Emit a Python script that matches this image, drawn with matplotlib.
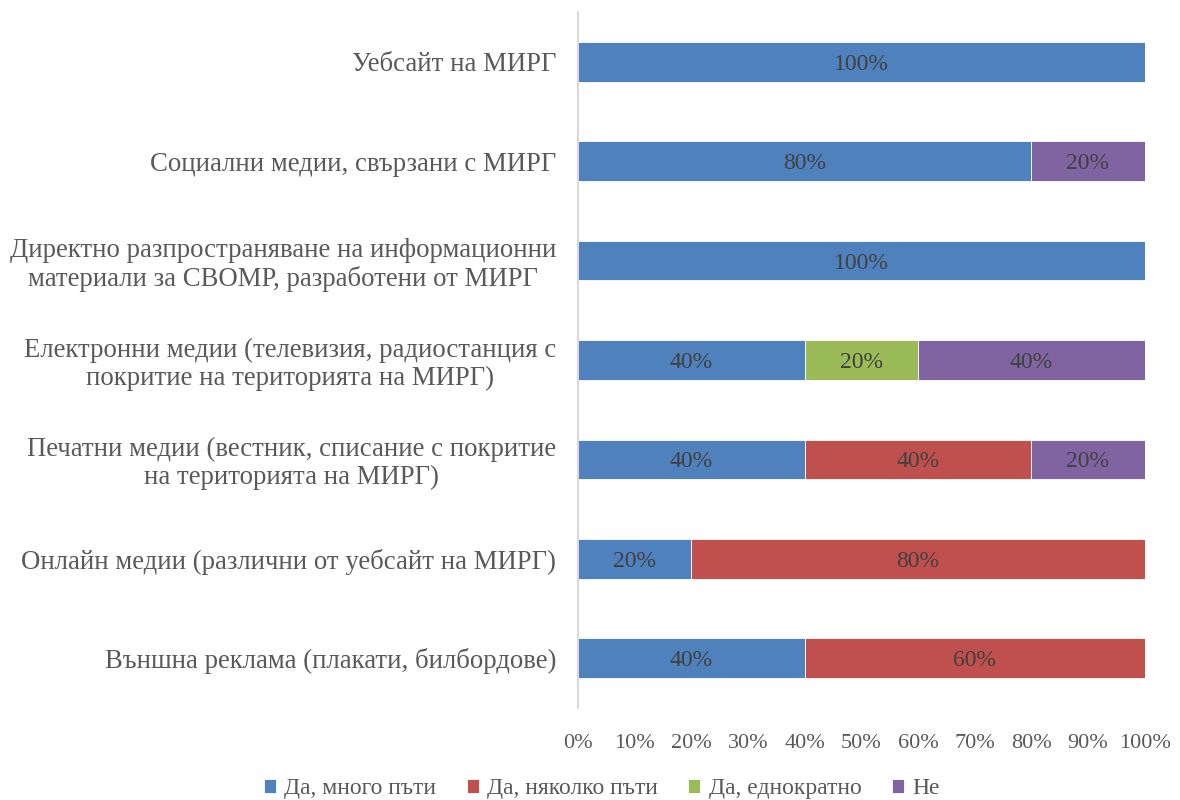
import matplotlib.pyplot as plt
import numpy as np

plt.rcParams['font.family'] = ['Liberation Serif', 'DejaVu Serif']

categories = [
    'Уебсайт на МИРГ',
    'Социални медии, свързани с МИРГ',
    'Директно разпространяване на информационни\nматериали за СВОМР, разработени от МИРГ',
    'Електронни медии (телевизия, радиостанция с\nпокритие на територията на МИРГ)',
    'Печатни медии (вестник, списание с покритие\nна територията на МИРГ)',
    'Онлайн медии (различни от уебсайт на МИРГ)',
    'Външна реклама (плакати, билбордове)',
]
series_names = ['Да, много пъти', 'Да, няколко пъти', 'Да, еднократно', 'Не']
many = [100, 80, 100, 40, 40, 20, 40]
several = [0, 0, 0, 0, 40, 80, 60]
once = [0, 0, 0, 20, 0, 0, 0]
no = [0, 20, 0, 40, 20, 0, 0]
colors = ['#4F81BD', '#C0504D', '#9BBB59', '#8064A2']

fig = plt.figure(figsize=(11.8, 8), dpi=100)
ax = fig.add_axes([0.49, 0.115, 0.48, 0.87])

y = np.arange(len(categories))
left = np.zeros(len(categories))
for name, vals, c in zip(series_names, [many, several, once, no], colors):
    vals = np.array(vals, dtype=float)
    ax.barh(y, vals, left=left, height=0.4, color=c, label=name,
            edgecolor='white', linewidth=0.6)
    for yi, l, v in zip(y, left, vals):
        if v > 0:
            ax.text(l + v / 2, yi, f'{int(v)}%', ha='center', va='center_baseline',
                    fontsize=17, color='#404040')
    left += vals

ax.set_ylim(len(categories) - 0.5, -0.5)
ax.set_xlim(0, 100)
ax.set_xticks(np.arange(0, 101, 10))
ax.set_xticklabels([f'{t}%' for t in range(0, 101, 10)])
ax.set_yticks(y)
ax.set_yticklabels(categories, multialignment='center', fontsize=19.3, linespacing=1.15)
ax.tick_params(axis='both', length=0, colors='#595959')
ax.tick_params(axis='x', labelsize=16, pad=19)
ax.tick_params(axis='y', pad=16)

for s in ['top', 'right', 'bottom']:
    ax.spines[s].set_visible(False)
ax.spines['left'].set_color('#D9D9D9')
ax.spines['left'].set_linewidth(1.5)

fig.legend(loc='center', bbox_to_anchor=(0.51, 0.014), ncol=4, frameon=False,
           fontsize=17, handlelength=0.5, handleheight=0.5, handletextpad=0.35,
           columnspacing=1.3, labelcolor='#595959')

fig.savefig('out.png', dpi=100)
